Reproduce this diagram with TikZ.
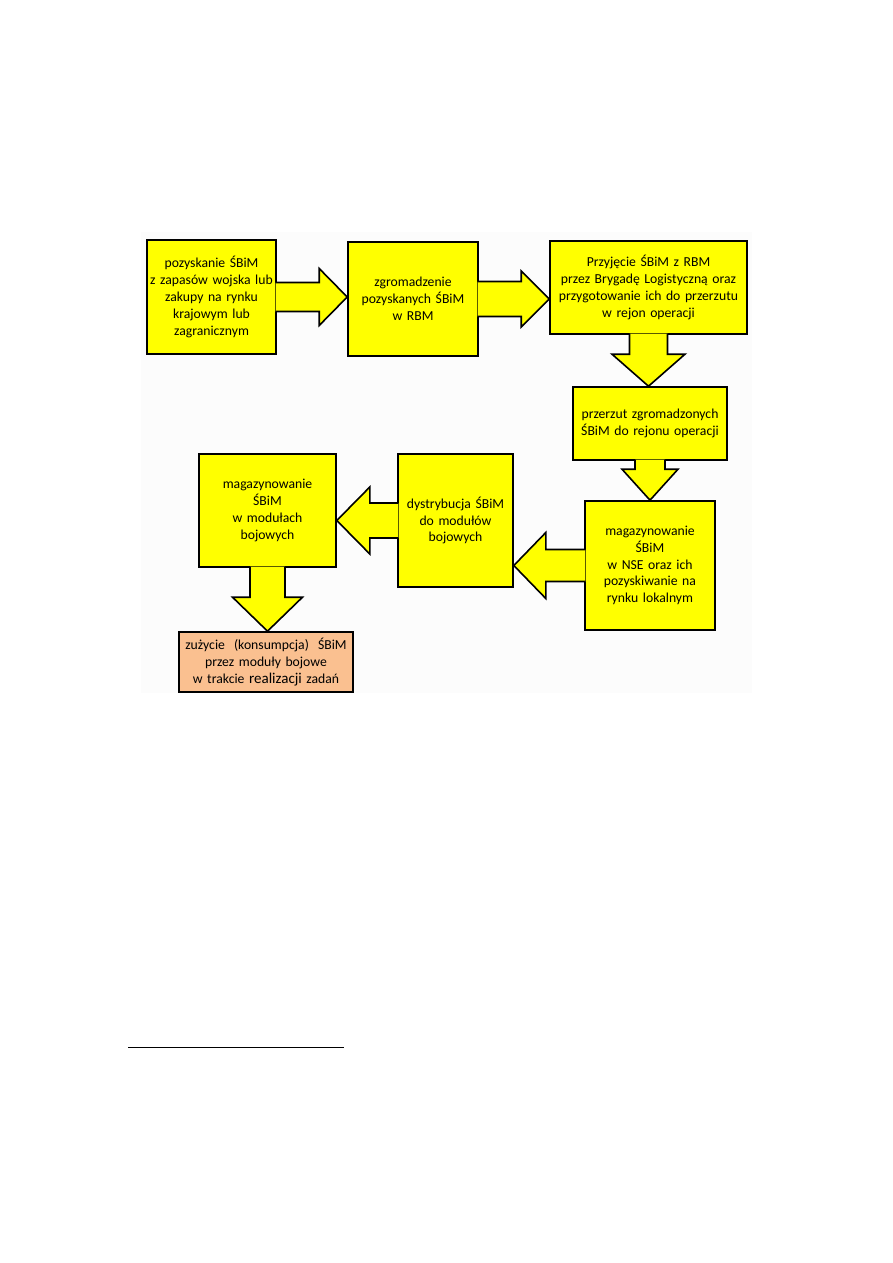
\documentclass[tikz,border=0pt]{standalone}
\usepackage{fontspec}
\setmainfont{Carlito}
\usetikzlibrary{calc}
\usetikzlibrary{positioning}

\definecolor{zolty}{HTML}{FFFF00}
\definecolor{brzoskwinia}{HTML}{FAC090}
\definecolor{tlo}{HTML}{FCFCFC}

% block arrow: #1 tail, #2 tip, #3 half shaft, #4 half head, #5 head length
\newcommand{\strzalka}[5]{%
    \coordinate (ogon) at ($(#1)!-1.2pt!(#2)$);
    \coordinate (grot) at ($(#2)!#5!(#1)$);
    \coordinate (a1) at ($(ogon)!#3!90:(#2)$);
    \coordinate (a2) at ($(grot)!#3!90:(#2)$);
    \coordinate (b1) at ($(grot)!#4!90:(#2)$);
    \coordinate (b2) at ($(grot)!#4!-90:(#2)$);
    \coordinate (a3) at ($(grot)!#3!-90:(#2)$);
    \coordinate (a4) at ($(ogon)!#3!-90:(#2)$);
    \fill[zolty] (a1) -- (a2) -- (b1) -- (#2) -- (b2) -- (a3) -- (a4) -- cycle;
    \draw[obrys] (a1) -- (a2) -- (b1) -- (#2) -- (b2) -- (a3) -- (a4);
}

\begin{document}
\begin{tikzpicture}[x=1pt, y=-1pt]
    \tikzset{
        every node/.style={font=\fontsize{13.7}{16.8}\selectfont},
        blok/.style={draw, line width=1.6pt, fill=zolty, align=center, inner sep=0pt},
        obrys/.style={line width=1.6pt, line join=miter}
    }
    \useasboundingbox (0,0) rectangle (893,1263);

    % draw tlo
    \fill[tlo] (141,232) rectangle (752,693);

    % draw bloki, gorny rzad
    \node[blok, text width=129pt, minimum height=114pt] (pozyskanie) at (211.5,297)
        {pozyskanie ŚBiM\\z zapasów wojska lub\\zakupy na rynku\\krajowym lub\\zagranicznym};
    \node[blok, text width=130pt, minimum height=114pt] (zgromadzenie) at (413,299)
        {zgromadzenie\\pozyskanych ŚBiM\\w RBM};
    \node[blok, text width=197pt, minimum height=93pt] (przyjecie) at (648.5,287.5)
        {Przyjęcie ŚBiM z RBM\\przez Brygadę Logistyczną oraz\\przygotowanie ich do przerzutu\\w rejon operacji\\[3pt]};

    % draw bloki, prawa kolumna
    \node[blok, text width=154pt, minimum height=73pt] (przerzut) at (650,423.5)
        {przerzut zgromadzonych\\ŚBiM do rejonu operacji};
    \node[blok, text width=130pt, minimum height=129pt] (magNSE) at (650,565.5)
        {magazynowanie\\ŚBiM\\w NSE oraz ich\\pozyskiwanie na\\rynku lokalnym};

    % draw bloki, dolny rzad
    \node[blok, text width=115pt, minimum height=133pt] (dystrybucja) at (455.5,520.5)
        {dystrybucja ŚBiM\\do modułów\\bojowych};
    \node[blok, text width=137pt, minimum height=113pt] (magModuly) at (267.5,510.5)
        {magazynowanie\\ŚBiM\\w modułach\\bojowych\\[3pt]};
    \node[blok, fill=brzoskwinia, text width=174pt, minimum height=60pt] (zuzycie) at (266,662)
        {zużycie\ \ (konsumpcja)\ \ ŚBiM\\przez moduły\ bojowe\\w trakcie {\fontsize{15}{16.8}\selectfont realizacji} zadań};

    % draw strzalki
    \coordinate (k1) at (pozyskanie.east -| zgromadzenie.west);
    \strzalka{pozyskanie.east}{k1}{14.5pt}{28.5pt}{28pt}
    \coordinate (k2) at (zgromadzenie.east -| przyjecie.west);
    \strzalka{zgromadzenie.east}{k2}{17.5pt}{28pt}{28pt}
    \coordinate (k3) at (przyjecie.south |- przerzut.north);
    \strzalka{przyjecie.south}{k3}{19pt}{36.5pt}{32pt}
    \coordinate (k4) at (przerzut.south |- magNSE.north);
    \strzalka{przerzut.south}{k4}{15pt}{28pt}{31pt}
    \coordinate (k5) at (magNSE.west -| dystrybucja.east);
    \strzalka{magNSE.west}{k5}{16pt}{33pt}{32pt}
    \coordinate (k6) at (dystrybucja.west -| magModuly.east);
    \strzalka{dystrybucja.west}{k6}{17.5pt}{33.5pt}{33pt}
    \coordinate (k7) at (magModuly.south |- zuzycie.north);
    \strzalka{magModuly.south}{k7}{17.5pt}{35pt}{34pt}

    % draw kreska przypisu
    \draw[line width=0.8pt] (128,1047) -- (344,1047);
\end{tikzpicture}
\end{document}
